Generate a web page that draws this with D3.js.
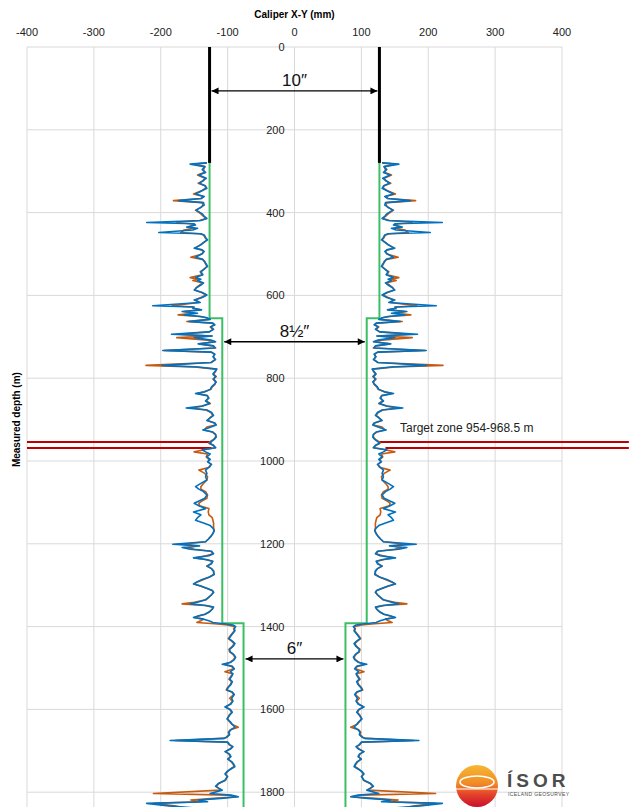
<!DOCTYPE html>
<html lang="en">
<head>
    <meta charset="UTF-8">
    <title>Caliper log</title>
    <style>
        html, body { margin: 0; padding: 0; background: #fff; }
        body { font-family: "Liberation Sans", Arial, sans-serif; }
        svg { display: block; }
    </style>
    <script src="https://d3js.org/d3.v7.min.js"></script>
</head>
<body>
<div id="chart"></div>
<script>
    // x axis ticks (mm) and depth ticks (m)
    const xTicks = [-400, -300, -200, -100, 0, 100, 200, 300, 400];
    const depthTicks = [0, 200, 400, 600, 800, 1000, 1200, 1400, 1600, 1800];

    // casing / bit steps: [depth, radius mm]
    const casingDepths = [280, 655, 655, 1392, 1392, 2000];
    const casingRadius = [127, 127, 108, 108, 76.2, 76.2];
    const surfaceCasing = {top: 0, bottom: 280, radius: 127};

    // annotation arrows: label, depth, radius
    const arrowLabels = ["10\u2033", "8\u00bd\u2033", "6\u2033"];
    const arrowDepths = [106, 712, 1478];
    const arrowRadius = [127, 108, 76.2];

    const targetTop = 954, targetBottom = 968.5;

    // caliper log (depth m, radius mm)
    const depth = [
        280, 283, 289, 296, 303, 309, 317, 323, 329, 335, 341, 348, 355, 361, 366, 371, 376, 382, 388, 394,
        403, 409, 414, 419, 424, 427, 430, 435, 438, 442, 448, 451, 454, 460, 466, 472, 478, 486, 490, 494,
        500, 508, 513, 518, 524, 530, 537, 543, 550, 557, 561, 564, 570, 575, 581, 587, 593, 599, 605, 611,
        617, 625, 628, 631, 635, 639, 643, 647, 651, 654, 658, 663, 667, 671, 676, 682, 688, 694, 698, 702,
        708, 712, 717, 722, 727, 733, 737, 742, 748, 755, 762, 769, 773, 778, 784, 790, 796, 802, 809, 815,
        821, 827, 833, 837, 842, 848, 855, 861, 867, 872, 877, 883, 890, 896, 902, 908, 913, 918, 925, 930,
        936, 942, 948, 954, 957, 962, 968, 973, 978, 983, 990, 996, 1002, 1008, 1015, 1022, 1030, 1038, 1046, 1054,
        1062, 1068, 1074, 1082, 1090, 1096, 1102, 1108, 1115, 1123, 1130, 1137, 1143, 1150, 1156, 1162, 1168, 1175, 1182, 1189,
        1195, 1201, 1205, 1209, 1213, 1218, 1224, 1229, 1234, 1238, 1242, 1248, 1254, 1260, 1266, 1274, 1280, 1286, 1292, 1297,
        1302, 1308, 1313, 1317, 1323, 1329, 1335, 1341, 1345, 1349, 1353, 1358, 1364, 1370, 1374, 1378, 1382, 1386, 1390, 1393,
        1396, 1400, 1405, 1410, 1416, 1422, 1429, 1435, 1441, 1448, 1455, 1461, 1467, 1474, 1480, 1486, 1491, 1496, 1502, 1509,
        1514, 1520, 1527, 1533, 1540, 1547, 1553, 1558, 1564, 1573, 1580, 1587, 1594, 1600, 1607, 1614, 1623, 1630, 1636, 1643,
        1649, 1655, 1661, 1667, 1670, 1675, 1679, 1685, 1690, 1695, 1702, 1708, 1714, 1720, 1726, 1732, 1738, 1744, 1750, 1756,
        1762, 1771, 1779, 1786, 1795, 1803, 1807, 1811, 1815, 1819, 1823, 1827, 1833, 1838, 1845, 1852
    ];
    const caliperBlue = [
        131, 156, 134, 138, 133, 143, 132, 137, 142, 134, 131, 139, 148, 135, 140, 173, 136, 135, 141, 147,
        138, 135, 131, 140, 221, 150, 148, 161, 145, 152, 203, 140, 135, 133, 130, 136, 140, 150, 138, 135,
        139, 148, 137, 135, 132, 130, 136, 140, 137, 148, 140, 145, 136, 140, 146, 150, 138, 131, 138, 150,
        141, 212, 150, 152, 139, 168, 145, 165, 140, 131, 126, 158, 122, 119, 125, 121, 128, 184, 123, 150,
        125, 118, 144, 121, 119, 197, 124, 119, 122, 118, 125, 198, 144, 116, 119, 122, 118, 121, 117, 120,
        124, 126, 135, 148, 131, 128, 133, 127, 138, 162, 131, 124, 121, 126, 131, 119, 117, 125, 137, 122,
        118, 117, 120, 125, 127, 121, 118, 138, 133, 126, 131, 126, 130, 124, 128, 133, 131, 133, 131, 140,
        148, 143, 136, 131, 134, 142, 150, 143, 133, 151, 140, 145, 148, 136, 126, 122, 120, 122, 125, 129,
        133, 182, 142, 168, 156, 124, 121, 128, 151, 132, 122, 124, 131, 124, 121, 120, 127, 138, 146, 151,
        140, 130, 123, 121, 124, 128, 133, 145, 156, 132, 121, 123, 127, 134, 143, 151, 136, 128, 122, 105,
        92, 88, 90, 89, 92, 95, 98, 93, 89, 92, 97, 96, 91, 88, 90, 95, 108, 93, 90, 96,
        92, 94, 97, 93, 95, 99, 101, 93, 90, 94, 92, 95, 104, 96, 93, 97, 101, 96, 93, 89,
        95, 98, 97, 101, 106, 186, 100, 97, 92, 95, 104, 97, 95, 100, 94, 91, 89, 95, 101, 104,
        100, 104, 114, 118, 108, 126, 95, 84, 110, 144, 130, 221, 188, 150, 96, 92
    ];
    const caliperOrange = [
        131, 150, 134, 136, 135, 145, 134, 136, 144, 133, 133, 140, 151, 136, 139, 181, 138, 137, 140, 148,
        140, 136, 132, 142, 176, 155, 150, 158, 150, 165, 170, 142, 136, 134, 131, 135, 141, 148, 139, 136,
        138, 155, 138, 134, 133, 131, 135, 141, 138, 156, 144, 152, 137, 142, 147, 149, 139, 132, 140, 148,
        143, 183, 152, 150, 141, 165, 150, 174, 142, 132, 128, 161, 123, 120, 126, 122, 127, 172, 124, 176,
        130, 119, 142, 122, 118, 195, 125, 120, 121, 119, 124, 222, 150, 117, 118, 121, 117, 122, 118, 119,
        123, 125, 134, 146, 130, 129, 132, 126, 137, 152, 132, 125, 122, 127, 130, 120, 118, 131, 135, 123,
        118, 118, 121, 127, 128, 122, 118, 135, 150, 130, 132, 128, 129, 125, 127, 143, 134, 130, 131, 136,
        140, 140, 133, 130, 131, 138, 143, 142, 128, 129, 128, 123, 122, 121, 121, 121, 120, 122, 125, 129,
        133, 166, 146, 160, 150, 125, 122, 132, 148, 134, 123, 125, 131, 124, 121, 121, 127, 136, 145, 150,
        141, 131, 123, 121, 124, 128, 132, 150, 168, 134, 122, 123, 127, 133, 142, 150, 136, 140, 146, 120,
        100, 89, 91, 90, 93, 96, 99, 94, 90, 93, 98, 97, 92, 89, 91, 96, 104, 94, 91, 104,
        93, 95, 98, 94, 96, 100, 102, 94, 91, 97, 93, 96, 103, 97, 94, 98, 100, 97, 94, 84,
        96, 99, 98, 102, 105, 178, 101, 98, 93, 96, 103, 98, 96, 99, 95, 92, 90, 96, 100, 103,
        101, 103, 113, 117, 110, 211, 100, 86, 120, 155, 140, 211, 180, 165, 98, 93
    ];

    const W = 638, H = 807;
    const x = d3.scaleLinear().domain([-400, 400]).range([27, 562]);
    const y = d3.scaleLinear().domain([0, 2000]).range([47, 875]);

    const svg = d3.select("#chart").append("svg")
        .attr("width", W)
        .attr("height", H)
        .style("font-family", "'Liberation Sans', Arial, sans-serif");

    const defs = svg.append("defs");
    defs.append("marker")
        .attr("id", "head")
        .attr("viewBox", "0 0 10 10")
        .attr("refX", 10).attr("refY", 5)
        .attr("markerWidth", 10).attr("markerHeight", 7)
        .attr("markerUnits", "userSpaceOnUse")
        .attr("orient", "auto-start-reverse")
        .append("path")
        .attr("d", "M0,0 L10,5 L0,10 Z")
        .attr("fill", "#000");

    // grid
    svg.append("g").selectAll("line")
        .data(xTicks)
        .join("line")
        .attr("x1", d => x(d)).attr("x2", d => x(d))
        .attr("y1", y(0)).attr("y2", H)
        .attr("stroke", "#d9d9d9").attr("stroke-width", 1);
    svg.append("g").selectAll("line")
        .data(depthTicks)
        .join("line")
        .attr("x1", x(-400)).attr("x2", x(400))
        .attr("y1", d => y(d)).attr("y2", d => y(d))
        .attr("stroke", "#d9d9d9").attr("stroke-width", 1);

    // top axis labels
    svg.append("g").selectAll("text")
        .data(xTicks)
        .join("text")
        .attr("x", d => x(d))
        .attr("y", 36)
        .attr("text-anchor", "middle")
        .attr("font-size", 11)
        .attr("fill", "#222")
        .text(d => d);

    // depth labels next to the zero line
    svg.append("g").selectAll("text")
        .data(depthTicks)
        .join("text")
        .attr("x", x(0) - 10)
        .attr("y", d => y(d) + 4)
        .attr("text-anchor", "end")
        .attr("font-size", 11)
        .attr("fill", "#222")
        .text(d => d);

    svg.append("text")
        .attr("x", x(0)).attr("y", 18)
        .attr("text-anchor", "middle")
        .attr("font-size", 10).attr("font-weight", "bold")
        .text("Caliper X-Y (mm)");

    svg.append("text")
        .attr("transform", `translate(20,${y(900)}) rotate(-90)`)
        .attr("text-anchor", "middle")
        .attr("font-size", 10).attr("font-weight", "bold")
        .text("Measured depth (m)");

    // target zone lines
    [targetTop, targetBottom].forEach(t => {
        svg.append("line")
            .attr("x1", x(-400)).attr("x2", x(-124))
            .attr("y1", y(t)).attr("y2", y(t))
            .attr("stroke", "#c00000").attr("stroke-width", 2);
        svg.append("line")
            .attr("x1", x(t === targetTop ? 126 : 136)).attr("x2", x(500))
            .attr("y1", y(t)).attr("y2", y(t))
            .attr("stroke", "#c00000").attr("stroke-width", 2);
    });
    svg.append("text")
        .attr("x", 400).attr("y", y(930))
        .attr("font-size", 12)
        .attr("fill", "#222")
        .text("Target zone 954-968.5 m");

    // green casing steps, both sides
    const casingPts = casingDepths.map((d, i) => [casingRadius[i], d]);
    [1, -1].forEach(s => {
        svg.append("path")
            .datum(casingPts)
            .attr("d", d3.line().x(p => x(s * p[0])).y(p => y(p[1])))
            .attr("fill", "none")
            .attr("stroke", "#3cbf64")
            .attr("stroke-width", 2);
    });

    // caliper curves, mirrored
    const orangePts = depth.map((d, i) => [caliperOrange[i], d]);
    const bluePts = depth.map((d, i) => [caliperBlue[i], d]);
    [[orangePts, "#c55a11"], [bluePts, "#0070c0"]].forEach(([pts, col]) => {
        [1, -1].forEach(s => {
            svg.append("path")
                .datum(pts)
                .attr("d", d3.line().x(p => x(s * p[0])).y(p => y(p[1])))
                .attr("fill", "none")
                .attr("stroke", col)
                .attr("stroke-width", 1.6)
                .attr("stroke-linejoin", "round");
        });
    });

    // surface casing
    [1, -1].forEach(s => {
        svg.append("line")
            .attr("x1", x(s * surfaceCasing.radius)).attr("x2", x(s * surfaceCasing.radius))
            .attr("y1", y(surfaceCasing.top)).attr("y2", y(surfaceCasing.bottom))
            .attr("stroke", "#000").attr("stroke-width", 3);
    });

    // diameter arrows
    arrowLabels.forEach((lab, i) => {
        const yy = y(arrowDepths[i]);
        svg.append("line")
            .attr("x1", x(-arrowRadius[i]) + 2).attr("x2", x(arrowRadius[i]) - 2)
            .attr("y1", yy).attr("y2", yy)
            .attr("stroke", "#000").attr("stroke-width", 1.3)
            .attr("marker-start", "url(#head)")
            .attr("marker-end", "url(#head)");
        svg.append("text")
            .attr("x", x(0)).attr("y", yy - 5)
            .attr("text-anchor", "middle")
            .attr("font-size", 17)
            .attr("fill", "#111")
            .text(lab);
    });

    // logo
    const logo = svg.append("g").attr("transform", "translate(477,786)");
    const grad = defs.append("linearGradient")
        .attr("id", "sun").attr("x1", 0).attr("y1", 0).attr("x2", 0).attr("y2", 1);
    grad.append("stop").attr("offset", "0%").attr("stop-color", "#f7b733");
    grad.append("stop").attr("offset", "45%").attr("stop-color", "#f08a24");
    grad.append("stop").attr("offset", "70%").attr("stop-color", "#e4422a");
    grad.append("stop").attr("offset", "100%").attr("stop-color", "#c8102e");
    logo.append("circle").attr("r", 21).attr("fill", "url(#sun)");
    logo.append("ellipse").attr("cx", 0).attr("cy", -4).attr("rx", 17).attr("ry", 6)
        .attr("fill", "none").attr("stroke", "#fff").attr("stroke-width", 1.5);
    logo.append("line").attr("x1", -21).attr("x2", 21).attr("y1", 3).attr("y2", 3)
        .attr("stroke", "#fff").attr("stroke-width", 1.2);
    svg.append("text")
        .attr("x", 507).attr("y", 787)
        .attr("font-size", 19).attr("font-weight", "bold")
        .attr("letter-spacing", 4)
        .attr("fill", "#4d4d4d")
        .text("ÍSOR");
    svg.append("text")
        .attr("x", 508).attr("y", 796)
        .attr("font-size", 5)
        .attr("letter-spacing", 0.4)
        .attr("fill", "#4d4d4d")
        .text("ICELAND GEOSURVEY");
</script>
</body>
</html>
